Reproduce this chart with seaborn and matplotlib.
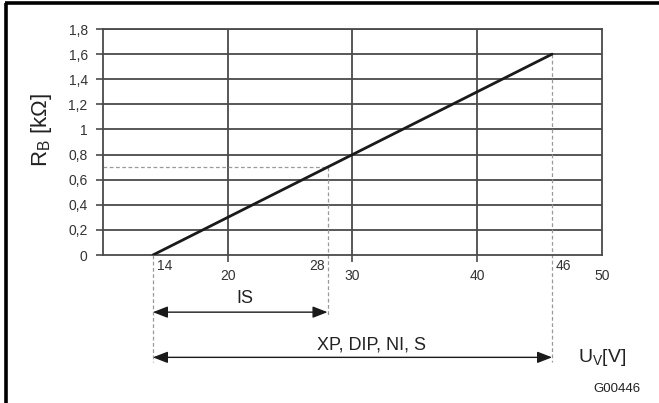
import matplotlib
matplotlib.use("Agg")
import matplotlib.pyplot as plt
from matplotlib.lines import Line2D
import seaborn as sns
import pandas as pd

# Supply voltage range and resulting resistor value
u_v = [14, 46]
r_b = [0.0, 1.6]

# Marked operating point for the IS variant
is_u = 28
is_r = 0.7

y_ticks = [0, 0.2, 0.4, 0.6, 0.8, 1.0, 1.2, 1.4, 1.6, 1.8]
y_tick_labels = ["0", "0,2", "0,4", "0,6", "0,8", "1", "1,2", "1,4", "1,6", "1,8"]
x_grid = [20, 30, 40]
x_main_labels = [20, 30, 40, 50]
x_range_labels = [14, 28, 46]

sns.set_style("white")
plt.rcParams["font.family"] = ["Liberation Sans", "DejaVu Sans"]
plt.rcParams["mathtext.fontset"] = "custom"
plt.rcParams["mathtext.rm"] = "Liberation Sans"

fig = plt.figure(figsize=(6.59, 4.03), dpi=100)
ax = fig.add_axes([0.1563, 0.3672, 0.7572, 0.5608])

df = pd.DataFrame({"U": u_v, "R": r_b})
sns.lineplot(data=df, x="U", y="R", ax=ax, color="#1a1a1a", linewidth=2.0, zorder=5)

ax.set_xlim(10, 50)
ax.set_ylim(0, 1.8)
grid_c = "#4a4a4a"
ax.set_yticks(y_ticks)
ax.set_yticklabels(y_tick_labels, fontsize=10, color="#333333")
ax.set_xticks(x_grid)
ax.set_xticklabels([])
ax.tick_params(axis="y", direction="out", length=5, width=1.2, color=grid_c, pad=6, left=True)
ax.tick_params(axis="x", direction="out", length=5, width=1.2, color=grid_c, bottom=True)
for y in y_ticks[1:]:
    ax.axhline(y, color=grid_c, linewidth=1.3, zorder=1)
for x in x_grid:
    ax.axvline(x, color=grid_c, linewidth=1.3, zorder=1)
for s in ax.spines.values():
    s.set_color(grid_c)
    s.set_linewidth(1.3)
ax.set_xlabel("")
ax.set_ylabel("R$_\\mathregular{B}$ [k\u03a9]", fontsize=16, color="#222222")
ax.yaxis.set_label_coords(-0.098, 0.553)

# Dashed reference lines
dash = dict(color="#9a9a9a", linewidth=0.9, linestyle=(0, (3, 2)), clip_on=False, zorder=2)
ax.plot([10, is_u], [is_r, is_r], **dash)
ax.plot([is_u, is_u], [is_r, -0.49], **dash)
ax.plot([u_v[0], u_v[0]], [0, -0.855], **dash)
ax.plot([u_v[1], u_v[1]], [r_b[1], -0.855], **dash)

# Tick labels along the voltage axis
for x in x_main_labels:
    ax.text(x, -0.168, str(x), ha="center", va="center", fontsize=10, color="#333333", clip_on=False)
ax.text(x_range_labels[0] + 0.3, -0.085, str(x_range_labels[0]), ha="left", va="center",
        fontsize=10, color="#333333", clip_on=False)
ax.text(x_range_labels[1] - 0.25, -0.085, str(x_range_labels[1]), ha="right", va="center",
        fontsize=10, color="#333333", clip_on=False)
ax.text(x_range_labels[2] + 0.3, -0.085, str(x_range_labels[2]), ha="left", va="center",
        fontsize=10, color="#333333", clip_on=False)

# Voltage ranges per variant
arrow = dict(arrowstyle="<|-|>,head_length=0.9,head_width=0.35", color="#1a1a1a",
             linewidth=1.0, shrinkA=0, shrinkB=0)
ax.annotate("", xy=(u_v[0], -0.455), xytext=(is_u, -0.455), arrowprops=arrow, annotation_clip=False)
ax.annotate("", xy=(u_v[0], -0.815), xytext=(u_v[1], -0.815), arrowprops=arrow, annotation_clip=False)
ax.text(21.4, -0.345, "IS", ha="center", va="center", fontsize=13, color="#222222", clip_on=False)
ax.text(31.55, -0.715, "XP, DIP, NI, S", ha="center", va="center", fontsize=13, color="#222222",
        clip_on=False)

fig.text(602 / 659, 1 - 358 / 403, "U$_\\mathregular{V}$[V]", ha="center", va="center",
         fontsize=14, color="#222222")
fig.text(617 / 659, 1 - 389 / 403, "G00446", ha="center", va="center", fontsize=9.5, color="#222222")

# Frame lines on the left and top edges
fig.add_artist(Line2D([6 / 659, 6 / 659], [0, 1 - 2.5 / 403], transform=fig.transFigure,
                      color="black", linewidth=2.6, solid_capstyle="butt"))
fig.add_artist(Line2D([5 / 659, 1], [1 - 2.5 / 403, 1 - 2.5 / 403], transform=fig.transFigure,
                      color="black", linewidth=2.6, solid_capstyle="butt"))

fig.savefig("out.png", dpi=100)
